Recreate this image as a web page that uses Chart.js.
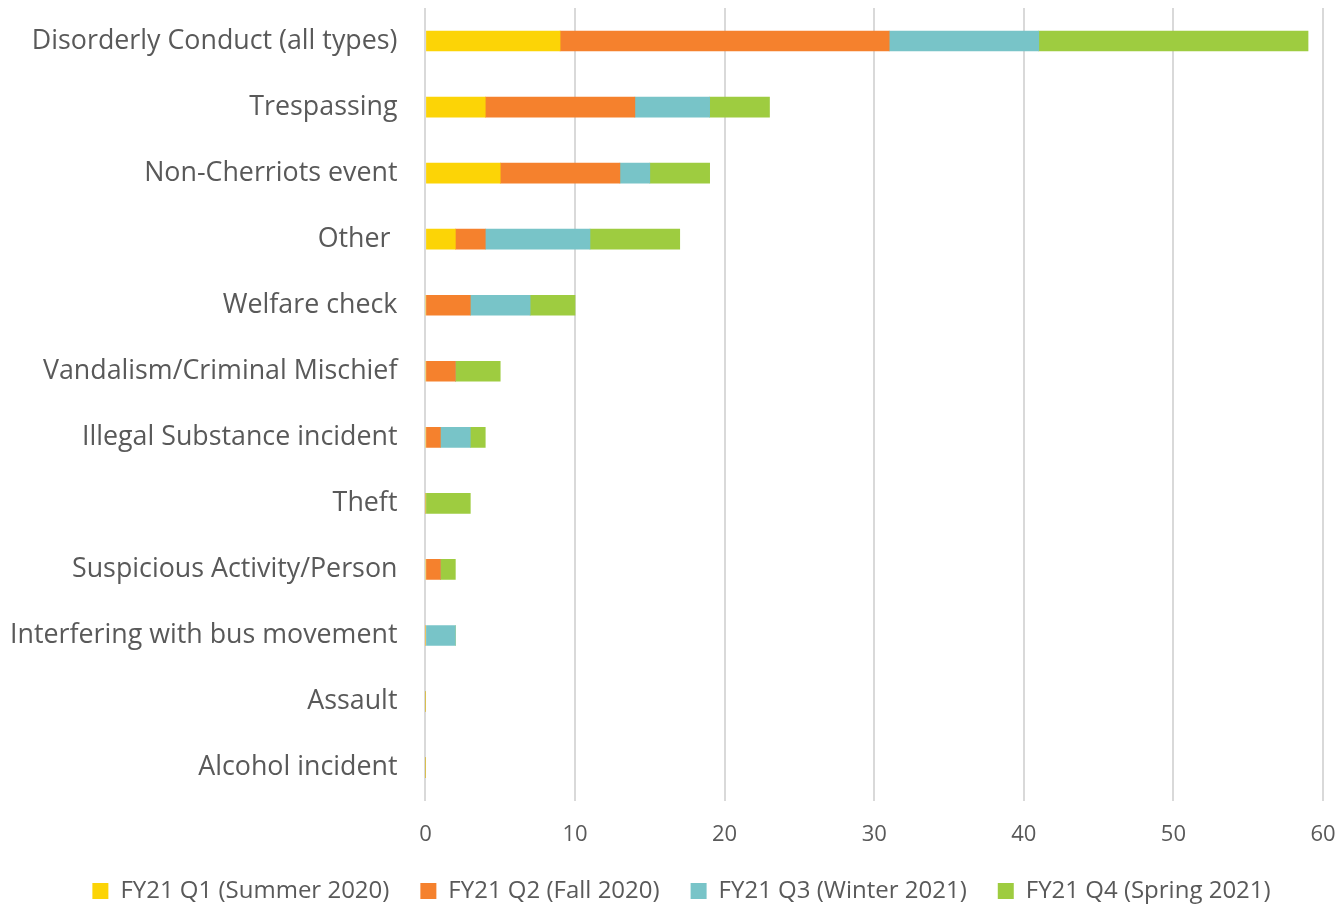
<!doctype html>
<html lang="en">
  <head>
    <meta charset="utf-8">
    <title>Incidents by type, FY21</title>
    <script src="https://cdn.jsdelivr.net/npm/chart.js@4"></script>
    <style>
      html, body { margin: 0; padding: 0; background: #fff; }
      #wrap { width: 1343px; height: 905px; position: relative; }
    </style>
  </head>
  <body>
    <div id="wrap"><canvas id="chart"></canvas></div>
    <script>
      const categories = [
        "Disorderly Conduct (all types)", "Trespassing", "Non-Cherriots event", "Other ",
        "Welfare check", "Vandalism/Criminal Mischief", "Illegal Substance incident", "Theft",
        "Suspicious Activity/Person", "Interfering with bus movement", "Assault", "Alcohol incident"
      ];
      const q1Summer = [9, 4, 5, 2, 0, 0, 0, 0, 0, 0, 0, 0];
      const q2Fall   = [22, 10, 8, 2, 3, 2, 1, 0, 1, 0, 0, 0];
      const q3Winter = [10, 5, 2, 7, 4, 0, 2, 0, 0, 2, 0, 0];
      const q4Spring = [18, 4, 4, 6, 3, 3, 1, 3, 1, 0, 0, 0];
      const seriesNames = ["FY21 Q1 (Summer 2020)", "FY21 Q2 (Fall 2020)", "FY21 Q3 (Winter 2021)", "FY21 Q4 (Spring 2021)"];
      const xTicks = [0, 10, 20, 30, 40, 50, 60];

      const txt = "#595959";
      const font = "'Open Sans', 'Noto Sans', sans-serif";
      const xPad = 21, yPad = 28;

      // the legend sits a bit right of the canvas centre in the original
      const legendShift = {
        id: "legendShift",
        afterLayout(chart) {
          chart.legend.left += 15;
          chart.legend.right += 15;
        }
      };

      new Chart(document.getElementById("chart"), {
        type: "bar",
        data: {
          labels: categories,
          datasets: [
            { label: seriesNames[0], data: q1Summer, backgroundColor: "#fcd406" },
            { label: seriesNames[1], data: q2Fall, backgroundColor: "#f5812d" },
            { label: seriesNames[2], data: q3Winter, backgroundColor: "#78c4c8" },
            { label: seriesNames[3], data: q4Spring, backgroundColor: "#9ecc40" }
          ]
        },
        options: {
          indexAxis: "y",
          responsive: true,
          maintainAspectRatio: false,
          animation: false,
          datasets: { bar: { barThickness: 20, borderWidth: 0 } },
          layout: { padding: { top: 8, right: 20, left: 10, bottom: 0 } },
          scales: {
            x: {
              stacked: true,
              min: 0, max: 60,
              afterBuildTicks: axis => { axis.ticks = xTicks.map(v => ({ value: v })); },
              grid: { color: "#d9d9d9", lineWidth: 2, drawTicks: false },
              border: { display: false },
              ticks: { color: txt, font: { family: font, size: 22 }, padding: xPad },
              // chart.js reserves the tick padding twice, take one back
              afterFit: axis => { axis.height -= xPad; axis.paddingLeft = 0; axis.paddingRight = 0; }
            },
            y: {
              stacked: true,
              grid: { display: false, drawTicks: false },
              border: { display: false },
              ticks: { color: txt, font: { family: font, size: 26.8 }, padding: yPad },
              afterFit: axis => { axis.width -= yPad; axis.paddingTop = 0; axis.paddingBottom = 0; }
            }
          },
          plugins: {
            legend: {
              position: "bottom",
              maxHeight: 57,
              labels: {
                color: txt,
                font: { family: font, size: 24 },
                boxWidth: 16, boxHeight: 16,
                padding: 31
              }
            },
            tooltip: { enabled: false }
          }
        },
        plugins: [legendShift]
      });
    </script>
  </body>
</html>
